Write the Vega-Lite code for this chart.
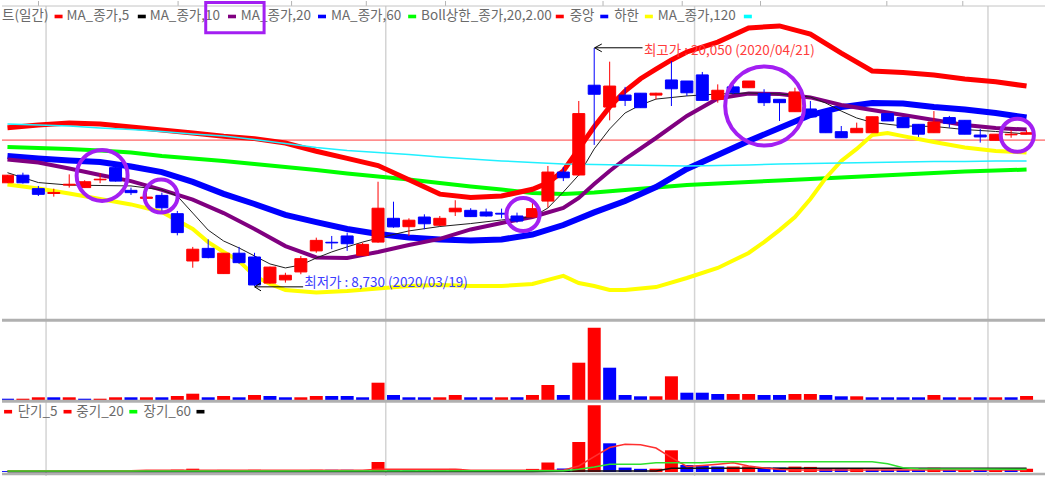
{
"$schema": "https://vega.github.io/schema/vega-lite/v6.json",
"padding": 0,
"spacing": 0,
"bounds": "flush",
"background": "#ffffff",
"config": {"view": {"stroke": null}, "font": "Noto Sans CJK KR"},
"resolve": {"scale": {"x": "independent", "y": "independent", "color": "independent"}},
"datasets": {
"grid": [{"i": 2.5}, {"i": 24.5}, {"i": 44.5}, {"i": 63.5}],
"hdr": [{"i": 2.01}, {"i": 11.05}, {"i": 18.4}, {"i": 23.24}, {"i": 28.37}, {"i": 38.57}, {"i": 43.7}, {"i": 48.77}, {"i": 56.95}, {"i": 61.87}],
"candles": [
{"i":0,"o":13640,"h":14010,"l":13630,"c":14000,"d":"u"},
{"i":1,"o":14000,"h":14120,"l":13600,"c":13640,"d":"d"},
{"i":2,"o":13360,"h":13490,"l":13010,"c":13090,"d":"d"},
{"i":3,"o":13130,"h":13360,"l":12980,"c":13180,"d":"u"},
{"i":4,"o":13530,"h":14040,"l":13410,"c":13570,"d":"u"},
{"i":5,"o":13410,"h":13760,"l":13400,"c":13690,"d":"u"},
{"i":6,"o":13780,"h":14090,"l":13620,"c":13810,"d":"u"},
{"i":7,"o":14360,"h":14550,"l":13700,"c":13720,"d":"d"},
{"i":8,"o":13280,"h":13410,"l":13060,"c":13170,"d":"d"},
{"i":9,"o":12900,"h":13170,"l":12770,"c":12960,"d":"u"},
{"i":10,"o":13040,"h":13170,"l":12300,"c":12450,"d":"d"},
{"i":11,"o":12170,"h":12300,"l":11140,"c":11270,"d":"d"},
{"i":12,"o":9920,"h":10590,"l":9600,"c":10480,"d":"u"},
{"i":13,"o":10520,"h":10950,"l":10050,"c":10080,"d":"d"},
{"i":14,"o":9320,"h":10290,"l":9310,"c":10290,"d":"u"},
{"i":15,"o":10290,"h":10590,"l":9790,"c":9840,"d":"d"},
{"i":16,"o":10110,"h":10310,"l":8730,"c":8780,"d":"d"},
{"i":17,"o":8870,"h":9650,"l":8840,"c":9630,"d":"u"},
{"i":18,"o":9020,"h":9360,"l":8890,"c":9240,"d":"u"},
{"i":19,"o":9400,"h":10160,"l":9290,"c":10030,"d":"u"},
{"i":20,"o":10400,"h":11030,"l":10310,"c":10900,"d":"u"},
{"i":21,"o":10810,"h":11110,"l":10480,"c":10780,"d":"d"},
{"i":22,"o":11110,"h":11270,"l":10400,"c":10740,"d":"d"},
{"i":23,"o":10190,"h":10790,"l":10160,"c":10710,"d":"u"},
{"i":24,"o":10820,"h":13690,"l":10790,"c":12430,"d":"u"},
{"i":25,"o":11950,"h":12740,"l":11500,"c":11540,"d":"d"},
{"i":26,"o":11550,"h":11950,"l":11110,"c":11860,"d":"u"},
{"i":27,"o":12010,"h":12140,"l":11430,"c":11690,"d":"d"},
{"i":28,"o":11620,"h":12060,"l":11580,"c":11950,"d":"u"},
{"i":29,"o":12260,"h":12810,"l":12060,"c":12430,"d":"u"},
{"i":30,"o":12330,"h":12430,"l":12010,"c":12030,"d":"d"},
{"i":31,"o":12250,"h":12410,"l":12030,"c":12060,"d":"d"},
{"i":32,"o":12190,"h":12410,"l":11950,"c":12150,"d":"d"},
{"i":33,"o":12060,"h":12220,"l":11740,"c":11820,"d":"d"},
{"i":34,"o":12010,"h":12770,"l":11980,"c":12410,"d":"u"},
{"i":35,"o":12770,"h":14440,"l":12460,"c":14150,"d":"u"},
{"i":36,"o":14150,"h":14390,"l":13720,"c":13880,"d":"d"},
{"i":37,"o":14010,"h":17530,"l":13960,"c":16930,"d":"u"},
{"i":38,"o":18280,"h":20050,"l":15440,"c":17850,"d":"d"},
{"i":39,"o":17240,"h":19400,"l":16610,"c":18240,"d":"u"},
{"i":40,"o":17810,"h":18200,"l":17290,"c":17560,"d":"d"},
{"i":41,"o":17900,"h":17900,"l":17210,"c":17210,"d":"d"},
{"i":42,"o":17810,"h":17920,"l":17610,"c":17900,"d":"u"},
{"i":43,"o":18530,"h":19430,"l":17290,"c":18110,"d":"d"},
{"i":44,"o":18480,"h":18480,"l":17770,"c":17920,"d":"d"},
{"i":45,"o":18770,"h":18910,"l":17560,"c":17560,"d":"d"},
{"i":46,"o":17610,"h":18320,"l":17450,"c":18040,"d":"u"},
{"i":47,"o":18200,"h":18290,"l":17860,"c":17920,"d":"d"},
{"i":48,"o":18160,"h":18480,"l":18160,"c":18480,"d":"u"},
{"i":49,"o":17880,"h":18090,"l":17290,"c":17450,"d":"d"},
{"i":50,"o":17610,"h":17610,"l":16580,"c":17450,"d":"d"},
{"i":51,"o":17020,"h":18160,"l":17020,"c":17960,"d":"u"},
{"i":52,"o":17150,"h":17530,"l":16770,"c":16770,"d":"d"},
{"i":53,"o":16970,"h":16970,"l":16020,"c":16020,"d":"d"},
{"i":54,"o":16070,"h":16340,"l":15780,"c":15780,"d":"d"},
{"i":55,"o":16020,"h":16500,"l":16020,"c":16230,"d":"u"},
{"i":56,"o":16020,"h":16780,"l":16020,"c":16780,"d":"u"},
{"i":57,"o":16930,"h":16930,"l":16580,"c":16580,"d":"d"},
{"i":58,"o":16740,"h":16740,"l":16260,"c":16260,"d":"d"},
{"i":59,"o":16420,"h":16420,"l":15820,"c":15950,"d":"d"},
{"i":60,"o":16020,"h":17050,"l":16020,"c":16530,"d":"u"},
{"i":61,"o":16740,"h":16820,"l":16260,"c":16470,"d":"d"},
{"i":62,"o":16610,"h":16610,"l":15950,"c":15950,"d":"d"},
{"i":63,"o":15910,"h":16200,"l":15550,"c":15820,"d":"d"},
{"i":64,"o":15660,"h":15950,"l":15660,"c":15950,"d":"u"},
{"i":65,"o":15920,"h":16150,"l":15780,"c":15950,"d":"u"},
{"i":66,"o":15950,"h":16140,"l":15950,"c":16020,"d":"u"}
],
"m5": [{"i":0,"v":14120},{"i":2,"v":13650},{"i":4,"v":13530},{"i":6,"v":13510},{"i":8,"v":13490},{"i":10,"v":13300},{"i":11,"v":13010},{"i":12,"v":12200},{"i":13,"v":11390},{"i":14,"v":10870},{"i":15,"v":10540},{"i":16,"v":10160},{"i":17,"v":9780},{"i":18,"v":9590},{"i":19,"v":9730},{"i":20,"v":10060},{"i":21,"v":10350},{"i":22,"v":10590},{"i":23,"v":10820},{"i":24,"v":11010},{"i":26,"v":11350},{"i":28,"v":11560},{"i":30,"v":11700},{"i":32,"v":11870},{"i":34,"v":12010},{"i":35,"v":12440},{"i":36,"v":13200},{"i":37,"v":14010},{"i":38,"v":15250},{"i":39,"v":16200},{"i":40,"v":16960},{"i":41,"v":17340},{"i":42,"v":17620},{"i":44,"v":17770},{"i":46,"v":17860},{"i":48,"v":17910},{"i":50,"v":17860},{"i":52,"v":17720},{"i":53,"v":17430},{"i":54,"v":17050},{"i":55,"v":16720},{"i":56,"v":16510},{"i":58,"v":16340},{"i":60,"v":16320},{"i":62,"v":16170},{"i":64,"v":16080},{"i":66,"v":15960}],
"m10": [{"i":0,"v":14750},{"i":2,"v":14600},{"i":4,"v":14320},{"i":6,"v":14010},{"i":8,"v":13720},{"i":10,"v":13300},{"i":12,"v":12840},{"i":14,"v":12200},{"i":16,"v":11440},{"i":18,"v":10630},{"i":20,"v":10090},{"i":22,"v":10060},{"i":24,"v":10350},{"i":26,"v":10680},{"i":28,"v":10970},{"i":30,"v":11420},{"i":32,"v":11730},{"i":34,"v":12010},{"i":36,"v":12440},{"i":37,"v":12920},{"i":38,"v":13580},{"i":39,"v":14200},{"i":40,"v":14770},{"i":42,"v":15770},{"i":44,"v":16820},{"i":46,"v":17650},{"i":48,"v":17890},{"i":50,"v":17860},{"i":52,"v":17700},{"i":54,"v":17340},{"i":56,"v":17100},{"i":58,"v":16860},{"i":60,"v":16630},{"i":62,"v":16390},{"i":64,"v":16240},{"i":66,"v":16170}],
"m20": [{"i":0,"v":14910},{"i":2,"v":14790},{"i":4,"v":14700},{"i":6,"v":14630},{"i":8,"v":14410},{"i":10,"v":14150},{"i":12,"v":13680},{"i":14,"v":13110},{"i":16,"v":12630},{"i":18,"v":12110},{"i":20,"v":11770},{"i":22,"v":11440},{"i":24,"v":11200},{"i":26,"v":11040},{"i":28,"v":10940},{"i":30,"v":10890},{"i":32,"v":10940},{"i":34,"v":11180},{"i":36,"v":11630},{"i":38,"v":12230},{"i":40,"v":12770},{"i":42,"v":13440},{"i":44,"v":14300},{"i":46,"v":14960},{"i":48,"v":15630},{"i":50,"v":16240},{"i":52,"v":16860},{"i":54,"v":17240},{"i":56,"v":17430},{"i":58,"v":17410},{"i":60,"v":17240},{"i":62,"v":17120},{"i":64,"v":16960},{"i":66,"v":16740}],
"m60": [{"i":0,"v":15340},{"i":2,"v":15290},{"i":4,"v":15250},{"i":6,"v":15170},{"i":8,"v":15080},{"i":10,"v":14910},{"i":12,"v":14790},{"i":14,"v":14680},{"i":16,"v":14530},{"i":18,"v":14390},{"i":20,"v":14250},{"i":22,"v":14080},{"i":24,"v":13940},{"i":26,"v":13800},{"i":28,"v":13630},{"i":30,"v":13460},{"i":32,"v":13320},{"i":34,"v":13150},{"i":36,"v":13110},{"i":38,"v":13180},{"i":40,"v":13300},{"i":42,"v":13420},{"i":44,"v":13530},{"i":46,"v":13610},{"i":48,"v":13680},{"i":50,"v":13750},{"i":52,"v":13820},{"i":54,"v":13890},{"i":56,"v":13960},{"i":58,"v":14030},{"i":60,"v":14100},{"i":62,"v":14180},{"i":64,"v":14220},{"i":66,"v":14270}],
"bu": [{"i":0,"v":16260},{"i":2,"v":16390},{"i":4,"v":16480},{"i":6,"v":16440},{"i":8,"v":16290},{"i":10,"v":16150},{"i":12,"v":16010},{"i":14,"v":15850},{"i":16,"v":15740},{"i":18,"v":15530},{"i":20,"v":15140},{"i":22,"v":14800},{"i":24,"v":14460},{"i":26,"v":13780},{"i":28,"v":13100},{"i":30,"v":12940},{"i":32,"v":13010},{"i":34,"v":13330},{"i":35,"v":13640},{"i":36,"v":14200},{"i":37,"v":15250},{"i":38,"v":16300},{"i":39,"v":17250},{"i":40,"v":18000},{"i":41,"v":18590},{"i":42,"v":19040},{"i":43,"v":19480},{"i":44,"v":19860},{"i":46,"v":20330},{"i":48,"v":21000},{"i":50,"v":21100},{"i":52,"v":20710},{"i":54,"v":19810},{"i":56,"v":18960},{"i":58,"v":18880},{"i":60,"v":18770},{"i":62,"v":18580},{"i":64,"v":18440},{"i":66,"v":18240}],
"bl": [{"i":0,"v":13560},{"i":2,"v":13370},{"i":4,"v":13130},{"i":6,"v":12870},{"i":8,"v":12610},{"i":10,"v":12250},{"i":12,"v":11440},{"i":13,"v":10820},{"i":14,"v":10350},{"i":15,"v":9920},{"i":16,"v":9210},{"i":17,"v":8830},{"i":18,"v":8540},{"i":20,"v":8420},{"i":22,"v":8490},{"i":24,"v":8610},{"i":26,"v":8730},{"i":28,"v":8780},{"i":30,"v":8730},{"i":32,"v":8730},{"i":34,"v":8830},{"i":35,"v":9020},{"i":36,"v":9210},{"i":37,"v":8870},{"i":38,"v":8730},{"i":39,"v":8540},{"i":40,"v":8540},{"i":42,"v":8680},{"i":44,"v":9110},{"i":46,"v":9590},{"i":48,"v":10300},{"i":49,"v":10820},{"i":50,"v":11390},{"i":51,"v":12010},{"i":52,"v":12870},{"i":53,"v":13870},{"i":54,"v":14680},{"i":55,"v":15250},{"i":56,"v":15910},{"i":57,"v":16010},{"i":58,"v":15860},{"i":60,"v":15580},{"i":62,"v":15320},{"i":64,"v":15150},{"i":66,"v":15080}],
"m120": [{"i":0,"v":16440},{"i":2,"v":16390},{"i":4,"v":16340},{"i":6,"v":16240},{"i":8,"v":16170},{"i":10,"v":16080},{"i":12,"v":15960},{"i":14,"v":15860},{"i":16,"v":15700},{"i":18,"v":15510},{"i":20,"v":15320},{"i":22,"v":15170},{"i":24,"v":15080},{"i":26,"v":14980},{"i":28,"v":14870},{"i":30,"v":14770},{"i":32,"v":14680},{"i":34,"v":14600},{"i":36,"v":14530},{"i":38,"v":14510},{"i":40,"v":14490},{"i":42,"v":14460},{"i":44,"v":14440},{"i":46,"v":14460},{"i":48,"v":14490},{"i":50,"v":14530},{"i":52,"v":14560},{"i":54,"v":14580},{"i":56,"v":14600},{"i":58,"v":14630},{"i":60,"v":14650},{"i":62,"v":14650},{"i":64,"v":14680},{"i":66,"v":14680}],
"legT": [{"i":-0.35,"t":"트(일간)"},{"i":3.82,"t":"MA_종가,5"},{"i":9.21,"t":"MA_종가,10"},{"i":15.11,"t":"MA_종가,20"},{"i":20.95,"t":"MA_종가,60"},{"i":26.79,"t":"Boll상한_종가,20,2.00"},{"i":36.41,"t":"중앙"},{"i":39.29,"t":"하한"},{"i":42.12,"t":"MA_종가,120"}],
"legD": [{"i":3.31,"d":"r"},{"i":8.7,"d":"k"},{"i":14.54,"d":"p"},{"i":20.37,"d":"b"},{"i":26.21,"d":"g"},{"i":35.77,"d":"r"},{"i":38.65,"d":"b"},{"i":41.54,"d":"y"},{"i":47.95,"d":"c"}],
"arrows": [{"x1":16.01,"y1":8690,"x2":19.15,"y2":8690},{"x1":16.01,"y1":8690,"x2":16.42,"y2":8880},{"x1":16.01,"y1":8690,"x2":16.42,"y2":8500},{"x1":38.03,"y1":20060,"x2":41.13,"y2":20060},{"x1":38.03,"y1":20060,"x2":38.49,"y2":20240},{"x1":38.03,"y1":20060,"x2":38.49,"y2":19870}],
"vol": [
{"i":0,"v":13,"a":9,"d":"d"},{"i":1,"v":13,"a":9,"d":"u"},{"i":2,"v":27,"a":18,"d":"u"},{"i":3,"v":27,"a":18,"d":"d"},{"i":4,"v":27,"a":18,"d":"u"},{"i":5,"v":13,"a":9,"d":"d"},{"i":6,"v":13,"a":9,"d":"u"},{"i":7,"v":27,"a":19,"d":"u"},{"i":8,"v":27,"a":18,"d":"d"},{"i":9,"v":27,"a":18,"d":"u"},
{"i":10,"v":27,"a":17,"d":"d"},{"i":11,"v":40,"a":23,"d":"u"},{"i":12,"v":63,"a":33,"d":"u"},{"i":13,"v":27,"a":14,"d":"d"},{"i":14,"v":40,"a":21,"d":"u"},{"i":15,"v":27,"a":13,"d":"d"},{"i":16,"v":50,"a":22,"d":"u"},{"i":17,"v":40,"a":19,"d":"d"},{"i":18,"v":27,"a":13,"d":"d"},{"i":19,"v":27,"a":14,"d":"u"},
{"i":20,"v":40,"a":22,"d":"u"},{"i":21,"v":40,"a":22,"d":"d"},{"i":22,"v":40,"a":22,"d":"d"},{"i":23,"v":27,"a":15,"d":"d"},{"i":24,"v":173,"a":100,"d":"u"},{"i":25,"v":50,"a":29,"d":"d"},{"i":26,"v":27,"a":16,"d":"d"},{"i":27,"v":27,"a":16,"d":"d"},{"i":28,"v":27,"a":16,"d":"u"},{"i":29,"v":50,"a":31,"d":"u"},
{"i":30,"v":27,"a":16,"d":"d"},{"i":31,"v":27,"a":16,"d":"d"},{"i":32,"v":27,"a":16,"d":"u"},{"i":33,"v":27,"a":16,"d":"d"},{"i":34,"v":50,"a":31,"d":"u"},{"i":35,"v":150,"a":95,"d":"u"},{"i":36,"v":50,"a":35,"d":"d"},{"i":37,"v":373,"a":300,"d":"u"},{"i":38,"v":723,"a":667,"d":"u"},{"i":39,"v":323,"a":287,"d":"d"},
{"i":40,"v":50,"a":44,"d":"d"},{"i":41,"v":37,"a":32,"d":"d"},{"i":42,"v":37,"a":33,"d":"u"},{"i":43,"v":237,"a":217,"d":"u"},{"i":44,"v":73,"a":70,"d":"d"},{"i":45,"v":73,"a":65,"d":"d"},{"i":46,"v":60,"a":55,"d":"d"},{"i":47,"v":60,"a":55,"d":"u"},{"i":48,"v":60,"a":56,"d":"u"},{"i":49,"v":50,"a":44,"d":"d"},
{"i":50,"v":50,"a":44,"d":"d"},{"i":51,"v":60,"a":54,"d":"u"},{"i":52,"v":60,"a":51,"d":"u"},{"i":53,"v":50,"a":40,"d":"d"},{"i":54,"v":37,"a":29,"d":"d"},{"i":55,"v":37,"a":30,"d":"u"},{"i":56,"v":27,"a":23,"d":"d"},{"i":57,"v":27,"a":23,"d":"d"},{"i":58,"v":27,"a":22,"d":"d"},{"i":59,"v":27,"a":21,"d":"d"},
{"i":60,"v":50,"a":42,"d":"u"},{"i":61,"v":27,"a":21,"d":"d"},{"i":62,"v":27,"a":20,"d":"u"},{"i":63,"v":27,"a":20,"d":"d"},{"i":64,"v":27,"a":20,"d":"u"},{"i":65,"v":27,"a":20,"d":"d"},{"i":66,"v":40,"a":32,"d":"u"}
],
"vr": [{"i":0,"v":12},{"i":8,"v":12},{"i":9,"v":17},{"i":23,"v":17},{"i":24,"v":27},{"i":29,"v":27},{"i":30,"v":17},{"i":36,"v":17},{"i":37,"v":60},{"i":38,"v":153},{"i":39,"v":245},{"i":40,"v":277},{"i":41,"v":272},{"i":42,"v":240},{"i":43,"v":143},{"i":44,"v":55},{"i":45,"v":65},{"i":46,"v":78},{"i":47,"v":93},{"i":48,"v":60},{"i":49,"v":40},{"i":50,"v":25},{"i":51,"v":20},{"i":66,"v":20}],
"vg": [{"i":0,"v":10},{"i":36,"v":12},{"i":37,"v":27},{"i":38,"v":50},{"i":39,"v":77},{"i":41,"v":77},{"i":42,"v":93},{"i":45,"v":93},{"i":46,"v":103},{"i":56,"v":103},{"i":57,"v":83},{"i":58,"v":43},{"i":59,"v":33},{"i":66,"v":27}],
"vk": [{"i":0,"v":3},{"i":34,"v":3},{"i":36,"v":8},{"i":37,"v":10},{"i":42,"v":10},{"i":43,"v":37},{"i":66,"v":37}],
"legT3": [{"i":0.66,"t":"단기_5"},{"i":4.46,"t":"중기_20"},{"i":8.81,"t":"장기_60"}],
"legD3": [{"i":0.04,"d":"r"},{"i":3.89,"d":"r"},{"i":8.15,"d":"g"},{"i":12.5,"d":"k"}]
},
"vconcat": [
{
"width": 1045, "height": 318,
"layer": [
{"data": {"name": "grid"}, "mark": {"type": "rule", "color": "#d4d4d4", "strokeWidth": 1.5},
 "encoding": {"x": {"field": "i", "type": "quantitative", "scale": {"domain": [-0.03, 67], "nice": false, "zero": false}, "axis": null},
  "y": {"datum": 22047, "type": "quantitative", "scale": {"domain": [7161, 22285], "nice": false, "zero": false}, "axis": null}, "y2": {"datum": 7161}}},
{"data": {"name": "hdr"}, "mark": {"type": "rule", "color": "#b4b4b4", "strokeWidth": 1},
 "encoding": {"x": {"field": "i", "type": "quantitative", "scale": {"domain": [-0.03, 67], "nice": false, "zero": false}, "axis": null},
  "y": {"datum": 22285, "type": "quantitative", "scale": {"domain": [7161, 22285], "nice": false, "zero": false}, "axis": null}, "y2": {"datum": 22047}}},
{"data": {"values": [{}]}, "mark": {"type": "rule", "color": "#c4c4c4", "strokeWidth": 1},
 "encoding": {"y": {"datum": 22047, "type": "quantitative", "scale": {"domain": [7161, 22285], "nice": false, "zero": false}, "axis": null}}},
{"data": {"values": [{}]}, "mark": {"type": "rule", "color": "#ff3c3c", "strokeWidth": 1},
 "encoding": {"y": {"datum": 15670, "type": "quantitative", "scale": {"domain": [7161, 22285], "nice": false, "zero": false}, "axis": null}}},
{"data": {"name": "m60"}, "mark": {"type": "line", "color": "#00ff00", "strokeWidth": 4, "clip": true},
 "encoding": {"x": {"field": "i", "type": "quantitative", "scale": {"domain": [-0.03, 67], "nice": false, "zero": false}, "axis": null},
  "y": {"field": "v", "type": "quantitative", "scale": {"domain": [7161, 22285], "nice": false, "zero": false}, "axis": null}}},
{"data": {"name": "m20"}, "mark": {"type": "line", "color": "#0000ff", "strokeWidth": 6, "clip": true},
 "encoding": {"x": {"field": "i", "type": "quantitative", "scale": {"domain": [-0.03, 67], "nice": false, "zero": false}, "axis": null},
  "y": {"field": "v", "type": "quantitative", "scale": {"domain": [7161, 22285], "nice": false, "zero": false}, "axis": null}}},
{"data": {"name": "m10"}, "mark": {"type": "line", "color": "#800080", "strokeWidth": 4, "clip": true},
 "encoding": {"x": {"field": "i", "type": "quantitative", "scale": {"domain": [-0.03, 67], "nice": false, "zero": false}, "axis": null},
  "y": {"field": "v", "type": "quantitative", "scale": {"domain": [7161, 22285], "nice": false, "zero": false}, "axis": null}}},
{"data": {"name": "m5"}, "mark": {"type": "line", "color": "#202020", "strokeWidth": 1, "clip": true},
 "encoding": {"x": {"field": "i", "type": "quantitative", "scale": {"domain": [-0.03, 67], "nice": false, "zero": false}, "axis": null},
  "y": {"field": "v", "type": "quantitative", "scale": {"domain": [7161, 22285], "nice": false, "zero": false}, "axis": null}}},
{"data": {"name": "bu"}, "mark": {"type": "line", "color": "#ff0000", "strokeWidth": 5, "clip": true},
 "encoding": {"x": {"field": "i", "type": "quantitative", "scale": {"domain": [-0.03, 67], "nice": false, "zero": false}, "axis": null},
  "y": {"field": "v", "type": "quantitative", "scale": {"domain": [7161, 22285], "nice": false, "zero": false}, "axis": null}}},
{"data": {"name": "bl"}, "mark": {"type": "line", "color": "#ffff00", "strokeWidth": 4, "clip": true},
 "encoding": {"x": {"field": "i", "type": "quantitative", "scale": {"domain": [-0.03, 67], "nice": false, "zero": false}, "axis": null},
  "y": {"field": "v", "type": "quantitative", "scale": {"domain": [7161, 22285], "nice": false, "zero": false}, "axis": null}}},
{"data": {"name": "m120"}, "mark": {"type": "line", "color": "#20f0ff", "strokeWidth": 1.5, "clip": true},
 "encoding": {"x": {"field": "i", "type": "quantitative", "scale": {"domain": [-0.03, 67], "nice": false, "zero": false}, "axis": null},
  "y": {"field": "v", "type": "quantitative", "scale": {"domain": [7161, 22285], "nice": false, "zero": false}, "axis": null}}},
{"data": {"name": "candles"}, "mark": {"type": "rule", "strokeWidth": 1, "clip": true},
 "encoding": {"x": {"field": "i", "type": "quantitative", "scale": {"domain": [-0.03, 67], "nice": false, "zero": false}, "axis": null},
  "y": {"field": "l", "type": "quantitative", "scale": {"domain": [7161, 22285], "nice": false, "zero": false}, "axis": null}, "y2": {"field": "h"},
  "color": {"field": "d", "type": "nominal", "scale": {"domain": ["u","d","r","k","p","b","g","y","c"], "range": ["#ff0000","#0000ff","#ff0000","#000000","#800080","#0000ff","#00ff00","#ffff00","#00ffff"]}, "legend": null}}},
{"data": {"name": "candles"}, "mark": {"type": "bar", "width": 12, "strokeWidth": 1, "orient": "vertical", "clip": true},
 "encoding": {"x": {"field": "i", "type": "quantitative", "scale": {"domain": [-0.03, 67], "nice": false, "zero": false}, "axis": null},
  "y": {"field": "o", "type": "quantitative", "scale": {"domain": [7161, 22285], "nice": false, "zero": false}, "axis": null}, "y2": {"field": "c"},
  "color": {"field": "d", "type": "nominal", "scale": {"domain": ["u","d","r","k","p","b","g","y","c"], "range": ["#ff0000","#0000ff","#ff0000","#000000","#800080","#0000ff","#00ff00","#ffff00","#00ffff"]}, "legend": null},
  "stroke": {"field": "d", "type": "nominal", "scale": {"domain": ["u","d"], "range": ["#ff0000","#0000ff"]}, "legend": null}}},
{"data": {"name": "legT"}, "mark": {"type": "text", "align": "left", "baseline": "middle", "fontSize": 13.5, "color": "#6a6a6a", "clip": true},
 "encoding": {"x": {"field": "i", "type": "quantitative", "scale": {"domain": [-0.03, 67], "nice": false, "zero": false}, "axis": null},
  "y": {"datum": 21548, "type": "quantitative", "scale": {"domain": [7161, 22285], "nice": false, "zero": false}, "axis": null}, "text": {"field": "t"}}},
{"data": {"name": "legD"}, "mark": {"type": "point", "shape": "M-1,-0.45L1,-0.45L1,0.45L-1,0.45Z", "size": 64, "filled": true, "opacity": 1},
 "encoding": {"x": {"field": "i", "type": "quantitative", "scale": {"domain": [-0.03, 67], "nice": false, "zero": false}, "axis": null},
  "y": {"datum": 21548, "type": "quantitative", "scale": {"domain": [7161, 22285], "nice": false, "zero": false}, "axis": null},
  "color": {"field": "d", "type": "nominal", "scale": {"domain": ["u","d","r","k","p","b","g","y","c"], "range": ["#ff0000","#0000ff","#ff0000","#000000","#800080","#0000ff","#00ff00","#ffff00","#00ffff"]}, "legend": null}}},
{"data": {"values": [{"i": 19.22, "p": 8880, "t": "최저가 : 8,730 (2020/03/19)"}]}, "mark": {"type": "text", "align": "left", "baseline": "middle", "fontSize": 13.5, "color": "#3c3cff"},
 "encoding": {"x": {"field": "i", "type": "quantitative", "scale": {"domain": [-0.03, 67], "nice": false, "zero": false}, "axis": null},
  "y": {"field": "p", "type": "quantitative", "scale": {"domain": [7161, 22285], "nice": false, "zero": false}, "axis": null}, "text": {"field": "t"}}},
{"data": {"values": [{"i": 41.22, "p": 19910, "t": "최고가 : 20,050 (2020/04/21)"}]}, "mark": {"type": "text", "align": "left", "baseline": "middle", "fontSize": 13.5, "color": "#ff3c3c"},
 "encoding": {"x": {"field": "i", "type": "quantitative", "scale": {"domain": [-0.03, 67], "nice": false, "zero": false}, "axis": null},
  "y": {"field": "p", "type": "quantitative", "scale": {"domain": [7161, 22285], "nice": false, "zero": false}, "axis": null}, "text": {"field": "t"}}},
{"data": {"name": "arrows"}, "mark": {"type": "rule", "color": "#000000", "strokeWidth": 1},
 "encoding": {"x": {"field": "x1", "type": "quantitative", "scale": {"domain": [-0.03, 67], "nice": false, "zero": false}, "axis": null}, "x2": {"field": "x2"},
  "y": {"field": "y1", "type": "quantitative", "scale": {"domain": [7161, 22285], "nice": false, "zero": false}, "axis": null}, "y2": {"field": "y2"}}},
{"data": {"values": [{"i": 49.04, "p": 17290}]}, "mark": {"type": "point", "shape": "circle", "filled": false, "color": "#a31ff2", "strokeWidth": 4, "size": 6241, "opacity": 1},
 "encoding": {"x": {"field": "i", "type": "quantitative", "scale": {"domain": [-0.03, 67], "nice": false, "zero": false}, "axis": null},
  "y": {"field": "p", "type": "quantitative", "scale": {"domain": [7161, 22285], "nice": false, "zero": false}, "axis": null}}},
{"data": {"values": [{"i": 6.13, "p": 13990}]}, "mark": {"type": "point", "shape": "circle", "filled": false, "color": "#a31ff2", "strokeWidth": 4, "size": 2600, "opacity": 1},
 "encoding": {"x": {"field": "i", "type": "quantitative", "scale": {"domain": [-0.03, 67], "nice": false, "zero": false}, "axis": null},
  "y": {"field": "p", "type": "quantitative", "scale": {"domain": [7161, 22285], "nice": false, "zero": false}, "axis": null}}},
{"data": {"values": [{"i": 9.95, "p": 13010}, {"i": 33.39, "p": 12130}, {"i": 65.4, "p": 15900}]}, "mark": {"type": "point", "shape": "circle", "filled": false, "color": "#a31ff2", "strokeWidth": 4, "size": 1100, "opacity": 1},
 "encoding": {"x": {"field": "i", "type": "quantitative", "scale": {"domain": [-0.03, 67], "nice": false, "zero": false}, "axis": null},
  "y": {"field": "p", "type": "quantitative", "scale": {"domain": [7161, 22285], "nice": false, "zero": false}, "axis": null}}},
{"data": {"values": [{"x1": 12.84, "x2": 16.62, "y1": 22215, "y2": 20770}]}, "mark": {"type": "rect", "filled": false, "color": "#a31ff2", "strokeWidth": 3},
 "encoding": {"x": {"field": "x1", "type": "quantitative", "scale": {"domain": [-0.03, 67], "nice": false, "zero": false}, "axis": null}, "x2": {"field": "x2"},
  "y": {"field": "y1", "type": "quantitative", "scale": {"domain": [7161, 22285], "nice": false, "zero": false}, "axis": null}, "y2": {"field": "y2"}}}
]
},
{
"width": 1045, "height": 81,
"layer": [
{"data": {"name": "grid"}, "mark": {"type": "rule", "color": "#d4d4d4", "strokeWidth": 1.5},
 "encoding": {"x": {"field": "i", "type": "quantitative", "scale": {"domain": [-0.03, 67], "nice": false, "zero": false}, "axis": null}}},
{"data": {"name": "vol"}, "mark": {"type": "bar", "width": 13, "orient": "vertical", "clip": true},
 "encoding": {"x": {"field": "i", "type": "quantitative", "scale": {"domain": [-0.03, 67], "nice": false, "zero": false}, "axis": null},
  "y": {"field": "v", "type": "quantitative", "scale": {"domain": [0, 810], "nice": false, "zero": false}, "axis": null, "stack": null},
  "y2": {"datum": 0},
  "color": {"field": "d", "type": "nominal", "scale": {"domain": ["u","d","r","k","p","b","g","y","c"], "range": ["#ff0000","#0000ff","#ff0000","#000000","#800080","#0000ff","#00ff00","#ffff00","#00ffff"]}, "legend": null}}},
{"data": {"values": [{}]}, "mark": {"type": "rule", "color": "#b0b0b0", "strokeWidth": 3},
 "encoding": {"y": {"datum": 797, "type": "quantitative", "scale": {"domain": [0, 810], "nice": false, "zero": false}, "axis": null}}}
]
},
{
"width": 1045, "height": 76,
"layer": [
{"data": {"name": "grid"}, "mark": {"type": "rule", "color": "#d4d4d4", "strokeWidth": 1.5},
 "encoding": {"x": {"field": "i", "type": "quantitative", "scale": {"domain": [-0.03, 67], "nice": false, "zero": false}, "axis": null}}},
{"data": {"name": "vol"}, "mark": {"type": "bar", "width": 13, "orient": "vertical", "clip": true},
 "encoding": {"x": {"field": "i", "type": "quantitative", "scale": {"domain": [-0.03, 67], "nice": false, "zero": false}, "axis": null},
  "y": {"field": "a", "type": "quantitative", "scale": {"domain": [-40, 720], "nice": false, "zero": false}, "axis": null, "stack": null},
  "y2": {"datum": 0},
  "color": {"field": "d", "type": "nominal", "scale": {"domain": ["u","d","r","k","p","b","g","y","c"], "range": ["#ff0000","#0000ff","#ff0000","#000000","#800080","#0000ff","#00ff00","#ffff00","#00ffff"]}, "legend": null}}},
{"data": {"name": "vk"}, "mark": {"type": "line", "color": "#101010", "strokeWidth": 1.5, "clip": true},
 "encoding": {"x": {"field": "i", "type": "quantitative", "scale": {"domain": [-0.03, 67], "nice": false, "zero": false}, "axis": null},
  "y": {"field": "v", "type": "quantitative", "scale": {"domain": [-40, 720], "nice": false, "zero": false}, "axis": null}}},
{"data": {"name": "vr"}, "mark": {"type": "line", "color": "#ff3030", "strokeWidth": 1.5, "clip": true},
 "encoding": {"x": {"field": "i", "type": "quantitative", "scale": {"domain": [-0.03, 67], "nice": false, "zero": false}, "axis": null},
  "y": {"field": "v", "type": "quantitative", "scale": {"domain": [-40, 720], "nice": false, "zero": false}, "axis": null}}},
{"data": {"name": "vg"}, "mark": {"type": "line", "color": "#30e030", "strokeWidth": 1.5, "clip": true},
 "encoding": {"x": {"field": "i", "type": "quantitative", "scale": {"domain": [-0.03, 67], "nice": false, "zero": false}, "axis": null},
  "y": {"field": "v", "type": "quantitative", "scale": {"domain": [-40, 720], "nice": false, "zero": false}, "axis": null}}},
{"data": {"name": "legT3"}, "mark": {"type": "text", "align": "left", "baseline": "middle", "fontSize": 13.5, "color": "#6a6a6a", "clip": true},
 "encoding": {"x": {"field": "i", "type": "quantitative", "scale": {"domain": [-0.03, 67], "nice": false, "zero": false}, "axis": null},
  "y": {"datum": 603, "type": "quantitative", "scale": {"domain": [-40, 720], "nice": false, "zero": false}, "axis": null}, "text": {"field": "t"}}},
{"data": {"name": "legD3"}, "mark": {"type": "point", "shape": "M-1,-0.45L1,-0.45L1,0.45L-1,0.45Z", "size": 64, "filled": true, "opacity": 1, "clip": true},
 "encoding": {"x": {"field": "i", "type": "quantitative", "scale": {"domain": [-0.03, 67], "nice": false, "zero": false}, "axis": null},
  "y": {"datum": 603, "type": "quantitative", "scale": {"domain": [-40, 720], "nice": false, "zero": false}, "axis": null},
  "color": {"field": "d", "type": "nominal", "scale": {"domain": ["u","d","r","k","p","b","g","y","c"], "range": ["#ff0000","#0000ff","#ff0000","#000000","#800080","#0000ff","#00ff00","#ffff00","#00ffff"]}, "legend": null}}},
{"data": {"values": [{}]}, "mark": {"type": "rule", "color": "#b0b0b0", "strokeWidth": 3},
 "encoding": {"y": {"datum": 708, "type": "quantitative", "scale": {"domain": [-40, 720], "nice": false, "zero": false}, "axis": null}}},
{"data": {"values": [{}]}, "mark": {"type": "rule", "color": "#b0b0b0", "strokeWidth": 2.5},
 "encoding": {"y": {"datum": -20, "type": "quantitative", "scale": {"domain": [-40, 720], "nice": false, "zero": false}, "axis": null}}}
]
}
]
}
